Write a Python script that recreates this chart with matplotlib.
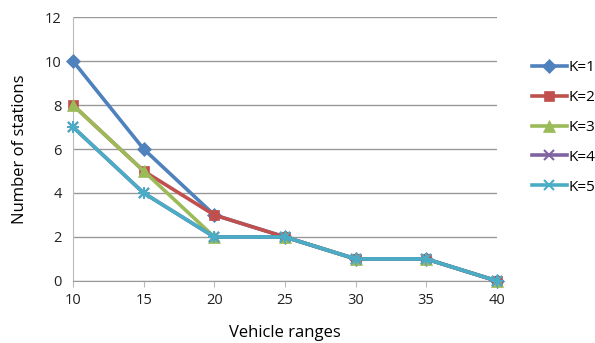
import numpy as np
import matplotlib.pyplot as plt

plt.rcParams['font.family'] = ['Open Sans', 'DejaVu Sans']

ranges = [10, 15, 20, 25, 30, 35, 40]
k1 = [10, 6, 3, 2, 1, 1, 0]
k2 = [8, 5, 3, 2, 1, 1, 0]
k3 = [8, 5, 2, 2, 1, 1, 0]
k4 = [7, 4, 2, 2, 1, 1, 0]
k5 = [7, 4, 2, 2, 1, 1, 0]
labels = ['K=1', 'K=2', 'K=3', 'K=4', 'K=5']

fig = plt.figure(figsize=(5.95, 3.43), dpi=100)
ax = fig.add_axes([0.1227, 0.181, 0.835 - 0.1227, 0.769])

styles = [
    ('#4F81BD', 'D', 7),
    ('#C0504D', 's', 7),
    ('#9BBB59', '^', 8),
    ('#8064A2', 'x', 7),
    ('#4BACC6', 'x', 7),
]
series = [k1, k2, k3, k4, k5]
for vals, lab, (c, m, ms) in zip(series, labels, styles):
    ax.plot(ranges, vals, color=c, marker=m, markersize=ms, lw=2.6, label=lab,
            clip_on=False, zorder=3, markeredgewidth=1.5 if m == 'x' else 0.5,
            markeredgecolor=c)
# asterisk look for K=5
ax.plot(ranges, k5, color='#4BACC6', marker='+', markersize=8, lw=0,
        markeredgewidth=1.5, clip_on=False, zorder=4)

ax.set_xlim(10, 40)
ax.set_ylim(0, 12)
ax.set_xticks(ranges)
ax.set_yticks(range(0, 13, 2))
ax.grid(axis='y', color='#999999', lw=1)
ax.set_axisbelow(True)
for s in ['top', 'right']:
    ax.spines[s].set_visible(False)
ax.spines['left'].set_color('#BBBBBB')
ax.spines['bottom'].set_color('#999999')
ax.tick_params(axis='y', length=0, labelsize=10.5, colors='#222222', pad=8)
ax.tick_params(axis='x', length=4, color='#BBBBBB', labelsize=10.5, colors='#222222', pad=5)
ax.set_xlabel('Vehicle ranges', fontsize=12, labelpad=12)
ax.set_ylabel('Number of stations', fontsize=12, labelpad=12)

ax.legend(loc='upper left', bbox_to_anchor=(1.05, 0.89), frameon=False, fontsize=11,
          handlelength=2.3, labelspacing=0.98, handletextpad=0.1)

fig.savefig('out.png', dpi=100)
